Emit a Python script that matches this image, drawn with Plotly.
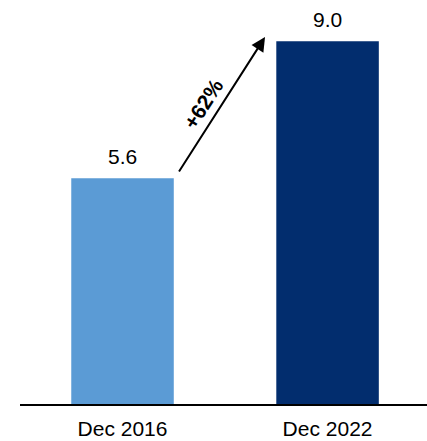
import plotly.graph_objects as go

categories = ["Dec 2016", "Dec 2022"]
values = [5.6, 9.0]
value_labels = ["5.6", "9.0"]
growth_label = "+62%"
colors = ["#5B9BD5", "#022D6E"]

FONT = "Liberation Sans, Arial, sans-serif"

fig = go.Figure()
fig.add_trace(go.Bar(
    x=[0, 1], y=values, width=0.5, marker=dict(color=colors, line=dict(width=0)),
    hoverinfo="skip",
))

for i, (v, t) in enumerate(zip(values, value_labels)):
    fig.add_annotation(x=i, y=v, text=t, showarrow=False, yanchor="middle", yshift=22,
                       font=dict(family=FONT, size=21, color="#000000"))

# growth arrow
fig.add_annotation(x=0.695, y=9.10, ax=0.271, ay=5.73, axref="x", ayref="y",
                   xref="x", yref="y", text="", showarrow=True,
                   arrowhead=2, arrowsize=1.4, arrowwidth=2, arrowcolor="#000000")
fig.add_annotation(x=0.395, y=7.45, text="<b>" + growth_label + "</b>", showarrow=False,
                   textangle=-57, font=dict(family=FONT, size=21, color="#000000"))

fig.update_layout(
    width=427, height=441,
    margin=dict(l=20, r=0, t=0, b=37),
    paper_bgcolor="white", plot_bgcolor="white",
    showlegend=False,
    bargap=0.5,
    xaxis=dict(range=[-0.5, 1.485], tickmode="array", tickvals=[0, 1], ticktext=categories,
               showgrid=False, zeroline=False, showline=True, linecolor="#000000", linewidth=2,
               ticks="", ticklabelstandoff=5,
               tickfont=dict(family=FONT, size=21, color="#000000")),
    yaxis=dict(range=[0, 10.02], visible=False, showgrid=False, zeroline=False),
)

fig.write_html("out.html")
